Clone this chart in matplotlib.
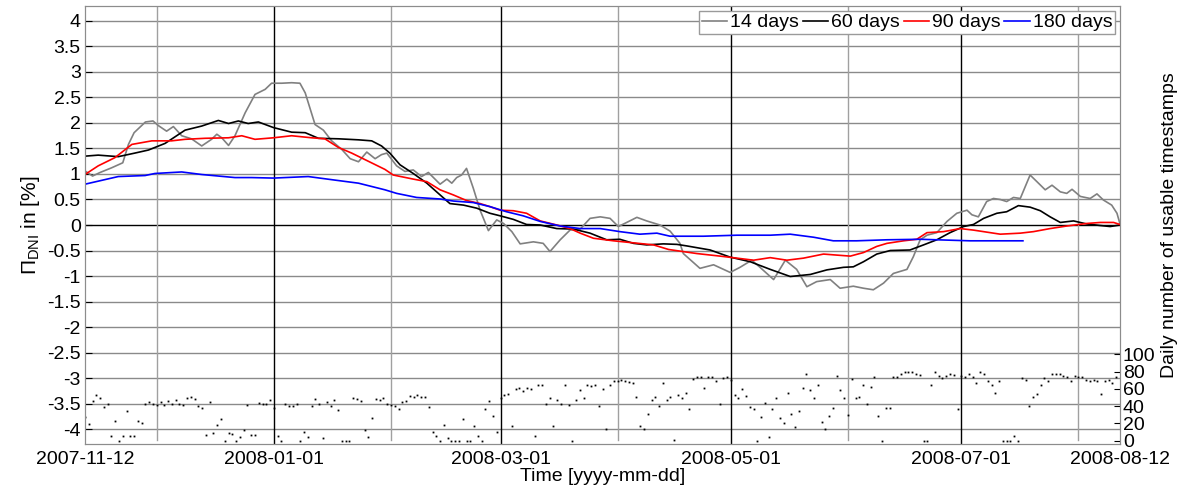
import matplotlib
matplotlib.use("Agg")
import matplotlib.pyplot as plt
import matplotlib.dates as mdates
import numpy as np
import pandas as pd

plt.rcParams["font.family"] = ["Liberation Sans", "DejaVu Sans"]
plt.rcParams["mathtext.fontset"] = "custom"
plt.rcParams["mathtext.rm"] = "Liberation Sans"
plt.rcParams["mathtext.it"] = "Liberation Sans:italic"

START = pd.Timestamp("2007-11-12")
END = pd.Timestamp("2008-08-12")

# rolling-window deviation, day offset from START -> value in %
days_14 = [0, 2, 4, 7, 10, 11.5, 13, 16, 18, 19.4, 21.6, 23.4, 25.6, 28.2, 30.9, 33.5, 34.9,
           36.2, 38, 39.7, 42.4, 45, 47.7, 49.4, 52.1, 54.7, 56.9, 58.3, 60.9, 63.1, 65.3, 68,
           70.2, 72.4, 74.6, 76.8, 78.5, 79.9, 82.5, 84.7, 86.9, 89.1, 90.9, 94, 95.8, 97.1,
           98.4, 99.7, 101, 102.8, 104.6, 106.8, 109, 110.8, 113, 115.2, 118.7, 121.3, 123.1,
           125.8, 128.4, 131.1, 133.7, 136.4, 139, 141.2, 143.4, 146.1, 148.7, 152.2, 154.9,
           157.5, 158.4, 162.8, 166.4, 170.8, 173.4, 176.5, 178.7, 182.3, 185.4, 188.4, 191.1,
           193.7, 197.3, 199.9, 203.4, 206.1, 208.7, 211.4, 214, 217.6, 219.3, 221.1, 222.9,
           225.5, 228.2, 230.8, 233.5, 234.8, 236.5, 238.7, 240.5, 242.3, 244, 245.8, 247.6,
           248.9, 250.2, 252, 254.2, 256, 258.2, 259.9, 261.3, 263.5, 266.1, 267.9, 269.6,
           271.8, 273.2, 274]
pi_14 = [1.06, 0.96, 1.03, 1.12, 1.22, 1.58, 1.81, 2.02, 2.04, 1.95, 1.84, 1.93, 1.75, 1.69,
         1.55, 1.68, 1.78, 1.71, 1.56, 1.75, 2.20, 2.56, 2.66, 2.78, 2.78, 2.79, 2.78, 2.59,
         1.97, 1.86, 1.65, 1.48, 1.30, 1.24, 1.43, 1.30, 1.38, 1.41, 1.16, 1.05, 1.08, 0.95,
         1.03, 0.80, 0.90, 0.82, 0.93, 0.98, 1.11, 0.72, 0.29, -0.11, 0.10, 0.03, -0.13,
         -0.37, -0.33, -0.36, -0.52, -0.29, -0.10, -0.08, 0.13, 0.16, 0.13, -0.03, 0.05, 0.15,
         0.08, 0.0, -0.12, -0.36, -0.56, -0.85, -0.78, -0.93, -0.83, -0.69, -0.83, -1.07,
         -0.69, -0.87, -1.21, -1.11, -1.07, -1.24, -1.20, -1.24, -1.27, -1.14, -0.95, -0.87,
         -0.62, -0.29, -0.20, -0.15, 0.07, 0.23, 0.29, 0.20, 0.16, 0.46, 0.52, 0.50, 0.46,
         0.54, 0.52, 0.75, 0.98, 0.85, 0.69, 0.78, 0.65, 0.62, 0.70, 0.56, 0.52, 0.61, 0.49,
         0.39, 0.23, 0.02]

days_60 = [0, 3.5, 8.8, 13.2, 16.8, 21.2, 26.5, 30.9, 35.3, 38, 40.6, 43.2, 45.9, 49.9, 54.7,
           58.3, 61.8, 67.1, 72.4, 75.9, 78.5, 80.7, 83.4, 86.9, 90.5, 94, 96.6, 100.2, 103.7,
           107.2, 109.9, 113.4, 116.9, 120.5, 124.9, 129.3, 133.7, 138.1, 141.6, 145.2, 148.7,
           153.1, 156.7, 159.3, 165.5, 170.8, 176.1, 181.4, 186.7, 192, 196.4, 200.8, 203.4,
           206.1, 209.6, 213.2, 218.4, 222, 225.5, 229, 232.6, 235.2, 237.9, 241.4, 244, 247.1,
           250.2, 252.9, 255.5, 258.2, 261.7, 265.2, 268.8, 271.4, 274]
pi_60 = [1.35, 1.37, 1.34, 1.41, 1.47, 1.60, 1.86, 1.94, 2.05, 1.99, 2.04, 1.99, 2.02, 1.91,
         1.82, 1.81, 1.70, 1.69, 1.67, 1.65, 1.55, 1.41, 1.18, 1.01, 0.82, 0.59, 0.42, 0.39,
         0.33, 0.23, 0.18, 0.11, 0.01, 0.0, -0.07, -0.08, -0.16, -0.29, -0.28, -0.36, -0.39,
         -0.37, -0.38, -0.41, -0.49, -0.63, -0.72, -0.87, -1.01, -0.97, -0.88, -0.83, -0.82,
         -0.72, -0.57, -0.50, -0.49, -0.39, -0.29, -0.15, -0.03, 0.01, 0.13, 0.23, 0.26, 0.38,
         0.35, 0.28, 0.16, 0.05, 0.08, 0.02, -0.01, -0.03, 0.0]

days_90 = [0, 3.5, 7.9, 12.4, 17.7, 22.9, 26.5, 31.8, 38, 41.5, 45, 49.9, 54.7, 60, 63.5, 67.1,
           70.6, 75, 79.4, 81.6, 86.9, 90.5, 94, 97.5, 101, 104.6, 107.2, 109.9, 113.4, 116.9,
           120.5, 124.9, 128.4, 131.1, 134.6, 139.9, 145.2, 150.5, 154.5, 162, 168.1, 172.6,
           177, 181.4, 185.8, 190.2, 195.5, 199, 202.6, 206.1, 209.6, 212.3, 216.7, 220.2,
           222.9, 227.3, 231.7, 235.2, 242.3, 247.6, 251.1, 255.5, 259.9, 265.2, 268.8, 272.3,
           274]
pi_90 = [0.99, 1.16, 1.32, 1.58, 1.65, 1.65, 1.68, 1.70, 1.71, 1.75, 1.68, 1.71, 1.75, 1.71,
         1.69, 1.52, 1.41, 1.25, 1.09, 0.98, 0.90, 0.85, 0.69, 0.59, 0.48, 0.42, 0.36, 0.29,
         0.28, 0.23, 0.08, 0.0, -0.07, -0.16, -0.26, -0.31, -0.35, -0.39, -0.48, -0.56, -0.61,
         -0.65, -0.69, -0.64, -0.69, -0.65, -0.57, -0.59, -0.61, -0.54, -0.42, -0.36, -0.31,
         -0.28, -0.15, -0.13, -0.07, -0.10, -0.18, -0.16, -0.13, -0.07, -0.02, 0.03, 0.05,
         0.05, 0.01]

days_180 = [0, 8.8, 15.9, 18.5, 25.6, 30.9, 39.7, 44.1, 49.9, 59.1, 66.2, 72.4, 79.4, 82.5,
            87.8, 94, 97.5, 102.8, 107.2, 111.6, 116, 120.5, 125.8, 131.1, 136.4, 141.6, 146.9,
            151.4, 154.9, 163.7, 172.6, 181.4, 186.7, 192.9, 198.1, 204.3, 212.3, 221.1, 225.5,
            234.3, 242.3, 248.3]
pi_180 = [0.80, 0.95, 0.97, 1.01, 1.04, 0.99, 0.93, 0.93, 0.92, 0.95, 0.88, 0.82, 0.69, 0.62,
          0.54, 0.51, 0.47, 0.44, 0.36, 0.26, 0.18, 0.07, -0.02, -0.07, -0.07, -0.13, -0.18,
          -0.16, -0.22, -0.22, -0.20, -0.20, -0.18, -0.24, -0.31, -0.31, -0.29, -0.28, -0.29,
          -0.31, -0.31, -0.31]

# usable timestamps per day, one value per day starting at START
daily_count = [
    27, 19, 46, 53, 49, 39, 43, 6, 23, 0, 6, 34, 5, 6, 23, 20, 42, 45, 43, 41,
    45, 41, 46, 43, 47, 42, 41, 49, 50, 48, 40, 38, 7, 45, 9, 18, 25, 0, 9, 8,
    0, 4, 12, 41, 7, 7, 44, 42, 42, 47, 38, 5, 0, 42, 40, 40, 43, 0, 10, 4,
    40, 48, 43, 3, 45, 40, 47, 35, 0, 0, 0, 49, 48, 46, 12, 4, 26, 48, 47, 49,
    43, 41, 40, 37, 45, 46, 52, 51, 53, 50, 50, 39, 10, 6, 0, 18, 3, 0, 0, 0,
    25, 0, 0, 17, 6, 0, 37, 46, 29, 10, 49, 53, 54, 17, 60, 61, 58, 61, 60, 5,
    64, 64, 42, 49, 17, 47, 43, 64, 41, 0, 47, 59, 49, 65, 63, 64, 40, 60, 13, 64,
    69, 69, 70, 69, 68, 67, 50, 17, 13, 31, 47, 51, 40, 67, 47, 51, 1, 53, 49, 55,
    37, 71, 74, 74, 61, 74, 74, 69, 42, 73, 74, 70, 53, 49, 60, 52, 39, 37, 0, 27,
    44, 4, 37, 49, 26, 21, 55, 31, 16, 34, 61, 77, 59, 49, 64, 22, 14, 28, 38, 75,
    59, 49, 30, 71, 49, 51, 64, 43, 62, 74, 28, 0, 38, 38, 74, 74, 77, 80, 79, 79,
    77, 76, 0, 0, 65, 79, 75, 73, 75, 77, 76, 37, 75, 74, 77, 74, 67, 79, 77, 69,
    65, 55, 69, 0, 0, 0, 5, 0, 73, 70, 40, 50, 54, 65, 73, 69, 77, 77, 77, 75,
    74, 69, 75, 74, 74, 70, 69, 70, 69, 54, 69, 70, 67, 74,
]

tick_dates = ["2007-11-12", "2008-01-01", "2008-03-01", "2008-05-01", "2008-07-01", "2008-08-12"]
dark_lines = ["2008-01-01", "2008-03-01", "2008-05-01", "2008-07-01"]
light_lines = ["2007-12-01", "2008-02-01", "2008-04-01", "2008-06-01", "2008-08-01"]


def to_dates(offsets):
    return START + pd.to_timedelta(np.asarray(offsets, dtype=float), unit="D")


fig = plt.figure(figsize=(11.85, 4.92), dpi=100)
ax = fig.add_axes([85 / 1185, 48 / 492, 1035 / 1185, 438 / 492])

ylo, yhi = -4.294, 4.294
for yv in np.arange(-4, 4.01, 0.5):
    ax.axhline(yv, color="black" if abs(yv) < 1e-9 else "#8a8a8a", lw=1.0, zorder=1)
for d in dark_lines:
    ax.axvline(pd.Timestamp(d), color="black", lw=1.0, zorder=1)
for d in light_lines:
    ax.axvline(pd.Timestamp(d), ymin=0.008, color="#a0a0a0", lw=1.0, zorder=1)

ax.plot(to_dates(days_14), pi_14, color="#808080", lw=1.2, label="14 days", zorder=3)
ax.plot(to_dates(days_60), pi_60, color="black", lw=1.2, label="60 days", zorder=3)
ax.plot(to_dates(days_90), pi_90, color="red", lw=1.2, label="90 days", zorder=3)
ax.plot(to_dates(days_180), pi_180, color="blue", lw=1.2, label="180 days", zorder=3)

ax.set_xlim(START, END)
ax.set_ylim(ylo, yhi)
ax.set_yticks(np.arange(-4, 4.01, 0.5))
ax.set_yticklabels([f"{v:g}" for v in np.arange(-4, 4.01, 0.5)])
ax.set_xticks([pd.Timestamp(d) for d in tick_dates])
ax.xaxis.set_major_formatter(mdates.DateFormatter("%Y-%m-%d"))
ax.tick_params(axis="both", labelsize=14, direction="in", colors="black")
ax.tick_params(axis="x", length=0, pad=5)
ax.tick_params(axis="y", length=5, pad=3)
for s in ax.spines.values():
    s.set_color("#8c8c8c")

ax.set_xlabel("Time [yyyy-mm-dd]", fontsize=14, labelpad=0)
ax.set_ylabel(r"$\Pi_{\rm DNI}$ in [%]", fontsize=15, labelpad=4)

leg = ax.legend(loc="upper right", ncol=4, fontsize=14, frameon=True, fancybox=False,
                edgecolor="#9a9a9a", framealpha=1, handlelength=1.3, handletextpad=0.15,
                columnspacing=0.2, borderpad=0.15, borderaxespad=0.25)
leg.get_frame().set_linewidth(1.0)

# daily counts on a secondary scale sharing the bottom strip
ax2 = ax.twinx()
slope = 0.01694
zero_at = -4.229
ax2.set_ylim((ylo - zero_at) / slope, (yhi - zero_at) / slope)
ax2.plot(to_dates(np.arange(len(daily_count))), daily_count, ls="none", marker="s",
         ms=1.3, mew=0, color="black", zorder=2)
ax2.set_yticks(np.arange(0, 101, 20))
ax2.tick_params(axis="y", labelsize=14, direction="in", length=4, pad=2)
ax2.set_ylabel("Daily number of usable timestamps", fontsize=14, rotation=90,
               va="center", ha="center")
ax2.yaxis.set_label_coords(1085 / 1035, 0.5)
for s in ax2.spines.values():
    s.set_color("#8c8c8c")

fig.savefig("out.png", dpi=100)
